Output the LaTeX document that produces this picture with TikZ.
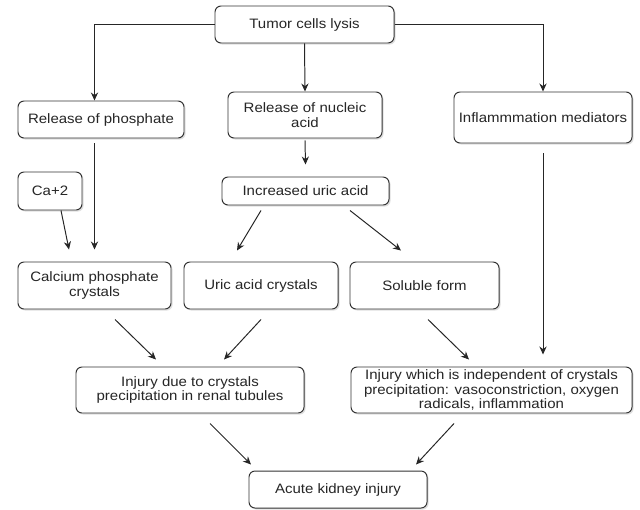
\documentclass[tikz,border=0pt]{standalone}
\usepackage{fontspec}
\setmainfont{Liberation Sans}[FakeStretch=1.1]
\usepackage{tikz}
\usetikzlibrary{
  calc,arrows.meta,arrows,positioning,shadows
}
\tikzset{
  box/.style={draw=black!80,line width=0.7pt,rounded corners=1.5mm,fill=white,
    align=center,inner sep=0pt,text=black!85,
    drop shadow={shadow xshift=0.4mm,shadow yshift=-0.4mm,opacity=0.25},
    font=\fontsize{9.7}{10.3}\selectfont},
  every node/.style={font=\small}
}
\tikzstyle{arrow} = [line width=0.7pt,draw=black!85,-{Stealth[length=2mm,width=1.8mm]}]

\begin{document}
\begin{tikzpicture}[x=0.25mm,y=-0.25mm]
  \useasboundingbox (0,0) rectangle (640,509);
  % first row
  \node[box,minimum width=44.75mm,minimum height=9.25mm] (tumor) at (304.5,24.5) {Tumor cells lysis};
  \node[box,minimum width=41.5mm,minimum height=9.25mm] (phos) at (101,119.5) {Release of phosphate};
  \node[box,minimum width=38.5mm,minimum height=11.5mm] (nuc) at (305,115) {Release of nucleic\\acid};
  \node[box,minimum width=44.5mm,minimum height=12.75mm] (inflam) at (543,117.5) {Inflammmation mediators};
  % second row
  \node[box,minimum width=16mm,minimum height=9.5mm] (ca) at (50,191) {Ca+2};
  \node[box,minimum width=41.75mm,minimum height=7mm] (inc) at (305.5,191) {Increased uric acid};
  % crystals
  \node[box,minimum width=38.25mm,minimum height=11.75mm] (calc) at (94.5,285.5) {Calcium phosphate\\crystals};
  \node[box,minimum width=38.5mm,minimum height=11.75mm] (uric) at (261,285.5) {Uric acid crystals};
  \node[box,minimum width=37.25mm,minimum height=11.75mm] (sol) at (424.5,285.5) {Soluble form};
  % injury
  \node[box,minimum width=57mm,minimum height=11.5mm] (inj) at (190,390) {Injury due to crystals\\precipitation in renal tubules};
  \node[box,minimum width=70.25mm,minimum height=11.5mm] (indep) at (491.5,390) {Injury which is independent of crystals\\precipitation: vasoconstriction, oxygen\\radicals, inflammation};
  \node[box,minimum width=44.5mm,minimum height=9.25mm] (acute) at (338,489.5) {Acute kidney injury};

  % connectors
  \draw[arrow] (tumor.west) -| (phos.north -| calc.north);
  \draw[arrow] (tumor.south) -- (nuc.north);
  \draw[arrow] (tumor.east) -| (inflam.north);
  \draw[arrow] ($(phos.south -| calc.north)+(0,5)$) -- ($(calc.north)+(0,-12)$);
  \draw[arrow] ($(ca.south)+(11,0)$) -- ($(calc.north)+(-25.5,-12)$);
  \draw[arrow] ($(nuc.south)+(0,2)$) -- ($(inc.north)+(0,-12)$);
  \draw[arrow] ($(inc.south)+(-44.5,5)$) -- ($(uric.north)+(-24,-11)$);
  \draw[arrow] ($(inc.south)+(44.5,5)$) -- ($(sol.north)+(-23.5,-11)$);
  \draw[arrow] ($(inflam.south)+(0,10)$) -- ($(indep.north -| inflam.south)+(0,-12)$);
  \draw[arrow] ($(calc.south)+(20.5,10)$) -- ($(inj.north)+(-34,-7)$);
  \draw[arrow] ($(uric.south)+(0,10)$) -- ($(inj.north)+(34,-7)$);
  \draw[arrow] ($(sol.south)+(3.5,10)$) -- ($(indep.north)+(-22.5,-7)$);
  \draw[arrow] ($(inj.south)+(20,10)$) -- ($(acute.north)+(-87,-6)$);
  \draw[arrow] ($(indep.south)+(-37.5,10)$) -- ($(acute.north)+(78,-6)$);
\end{tikzpicture}
\end{document}
